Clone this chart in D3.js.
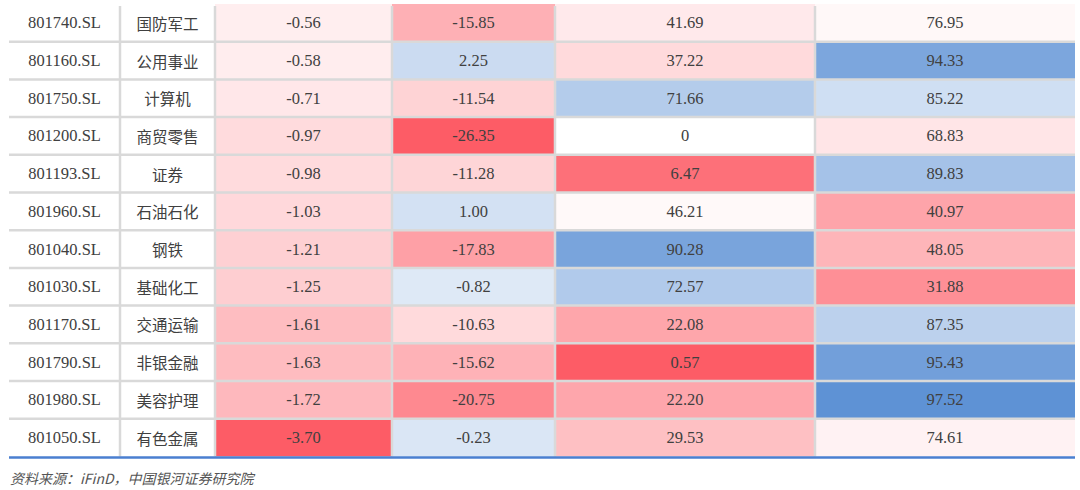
<!DOCTYPE html>
<html><head><meta charset="utf-8">
<script src="https://cdn.jsdelivr.net/npm/d3@7"></script>
<style>body{margin:0;background:#fff}</style>
</head><body>
<script>
var codes = ["801740.SL","801160.SL","801750.SL","801200.SL","801193.SL","801960.SL","801040.SL","801030.SL","801170.SL","801790.SL","801980.SL","801050.SL"]
var names = ["国防军工","公用事业","计算机","商贸零售","证券","石油石化","钢铁","基础化工","交通运输","非银金融","美容护理","有色金属"]
var col1 = [-0.56,-0.58,-0.71,-0.97,-0.98,-1.03,-1.21,-1.25,-1.61,-1.63,-1.72,-3.70]
var col2 = [-15.85,2.25,-11.54,-26.35,-11.28,1.00,-17.83,-0.82,-10.63,-15.62,-20.75,-0.23]
var col3 = [41.69,37.22,71.66,0,6.47,46.21,90.28,72.57,22.08,0.57,22.20,29.53]
var col4 = [76.95,94.33,85.22,68.83,89.83,40.97,48.05,31.88,87.35,95.43,97.52,74.61]

var width = 1080, height = 490
var svg = d3.select("body").append("svg").attr("width",width).attr("height",height)

var edges = [9,120,215,392,555,815,1075]
var top0 = 4, rowH = 37.7
var y = d3.scaleBand().domain(d3.range(codes.length)).range([top0, top0+rowH*codes.length])

var red = "#fd5c66", blue = "#5a8fd4"
var scales = [
  d3.scaleLinear().domain([-3.7,-0.2,3]).range([red,"#fff",blue]).clamp(true),
  d3.scaleLinear().domain([-26.35,-6,20]).range([red,"#fff",blue]).clamp(true),
  d3.scaleLinear().domain([0.57,48,100]).range([red,"#fff",blue]).clamp(true),
  d3.scaleLinear().domain([10,80,98]).range([red,"#fff",blue]).clamp(true)
]
var cols = [col1,col2,col3,col4]
var loc = d3.formatLocale({decimal:".",thousands:",",grouping:[3],currency:["",""],minus:"-"})
var f2 = loc.format(".2f")
var fmt = [f2,f2,function(v){return v===0?"0":f2(v)},f2]

codes.forEach(function(c,i){
  var g = svg.append("g")
  g.append("text").text(c).attr("x",(edges[0]+edges[1])/2).attr("y",y(i)+rowH/2)
  g.append("text").text(names[i]).attr("x",(edges[1]+edges[2])/2).attr("y",y(i)+rowH/2)
   .style("font-family","'Noto Sans CJK SC'")
  cols.forEach(function(col,j){
    var v = col[i]
    g.insert("rect","text").attr("x",edges[j+2]).attr("y",y(i)).attr("width",edges[j+3]-edges[j+2]).attr("height",rowH)
     .attr("fill", (j===2 && v===0) ? "#fff" : scales[j](v))
    g.append("text").text(fmt[j](v)).attr("x",(edges[j+2]+edges[j+3])/2).attr("y",y(i)+rowH/2)
  })
})
svg.selectAll("text").attr("text-anchor","middle").attr("dominant-baseline","central")
  .attr("fill","#404040").style("font-size","15.5px")
svg.selectAll("text").filter(function(){return !this.style.fontFamily}).style("font-family","'Liberation Serif',serif").style("font-size","16.5px")

// grid
var grid = svg.append("g").attr("stroke","#d9d9d9").attr("stroke-width",2.5)
d3.range(codes.length).forEach(function(i){
  if(i>0) grid.append("line").attr("x1",edges[0]).attr("x2",edges[6]).attr("y1",y(i)).attr("y2",y(i))
})
edges.slice(1,6).forEach(function(x){
  grid.append("line").attr("x1",x).attr("x2",x).attr("y1",top0+2).attr("y2",top0+rowH*codes.length)
})
svg.append("line").attr("x1",edges[0]).attr("x2",edges[6]).attr("y1",top0+rowH*codes.length+1).attr("y2",top0+rowH*codes.length+1)
  .attr("stroke","#4a7fd0").attr("stroke-width",2.5)

svg.append("text").text("资料来源：iFinD，中国银河证券研究院").attr("x",10).attr("y",478)
  .attr("dominant-baseline","central").attr("fill","#555").style("font-size","14px")
  .style("font-style","italic").style("font-family","'Noto Sans CJK SC'")
</script>
</body></html>
